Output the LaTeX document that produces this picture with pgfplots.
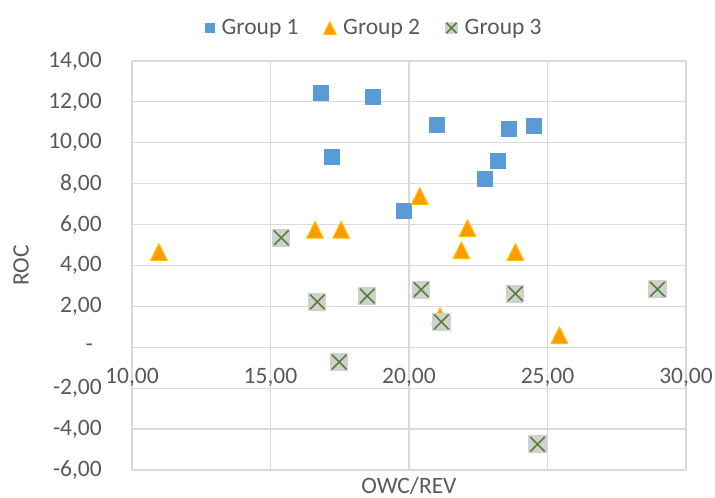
\documentclass[border=0pt]{standalone}
\usepackage{pgfplots}
\pgfplotsset{compat=1.18}
\usepackage{fontspec}
\setmainfont{Carlito}

\definecolor{txt}{HTML}{595959}
\definecolor{gridc}{HTML}{D9D9D9}
\definecolor{g1}{HTML}{5B9BD5}
\definecolor{g2fill}{HTML}{FF9A00}
\definecolor{g2edge}{HTML}{FFC000}
\definecolor{g3fill}{HTML}{D0D0D0}
\definecolor{g3line}{HTML}{548235}

% isosceles triangle as wide as it is tall, centred on the point
\pgfdeclareplotmark{tri}{%
  \pgfpathmoveto{\pgfqpoint{0pt}{\pgfplotmarksize}}%
  \pgfpathlineto{\pgfqpoint{\pgfplotmarksize}{-\pgfplotmarksize}}%
  \pgfpathlineto{\pgfqpoint{-\pgfplotmarksize}{-\pgfplotmarksize}}%
  \pgfpathclose
  \pgfusepathqfillstroke}
% cross drawn over a filled square
\pgfdeclareplotmark{xbox}{%
  \pgfpathrectangle{\pgfqpoint{-\pgfplotmarksize}{-\pgfplotmarksize}}{\pgfqpoint{2\pgfplotmarksize}{2\pgfplotmarksize}}%
  \pgfusepathqfill
  \pgfpathmoveto{\pgfqpoint{-0.8\pgfplotmarksize}{-0.8\pgfplotmarksize}}%
  \pgfpathlineto{\pgfqpoint{0.8\pgfplotmarksize}{0.8\pgfplotmarksize}}%
  \pgfpathmoveto{\pgfqpoint{-0.8\pgfplotmarksize}{0.8\pgfplotmarksize}}%
  \pgfpathlineto{\pgfqpoint{0.8\pgfplotmarksize}{-0.8\pgfplotmarksize}}%
  \pgfusepathqstroke}

% legend shows a single, smaller copy of the mark
\pgfplotsset{
  legmark/.style={legend image code/.code={\draw[##1, mark size=#1] plot coordinates {(0bp,0bp)};}},
}

\newcommand\chartfont{\fontsize{23.5bp}{28bp}\selectfont}

\begin{document}
\begin{tikzpicture}
\path[use as bounding box] (-132bp,-28bp) rectangle (583bp,470bp);
\begin{axis}[
  at={(0,0)}, anchor=south west,
  scale only axis, width=554bp, height=409bp,
  xmin=10, xmax=30, ymin=-6, ymax=14,
  xtick={10,15,20,25,30},
  ytick={-6,-4,-2,0,2,4,6,8,10,12,14},
  xticklabels={{10,00},{15,00},{20,00},{25,00},{30,00}},
  yticklabels={{-6,00},{-4,00},{-2,00},{-\hspace*{9bp}},{2,00},{4,00},{6,00},{8,00},{10,00},{12,00},{14,00}},
  major tick length=0pt,
  grid=major,
  grid style={gridc, line width=1.2bp},
  axis line style={gridc, line width=1.2bp},
  tick label style={font=\chartfont, text=txt},
  xticklabel style={anchor=center, inner sep=0pt, yshift=93bp},
  yticklabel style={anchor=east, inner sep=0pt, xshift=-30bp},
  xlabel={OWC/REV},
  ylabel={ROC},
  xlabel style={at={(axis description cs:0.5,0)}, anchor=base, yshift=-23bp, font=\chartfont, text=txt},
  ylabel style={at={(axis description cs:-0.2004,0.5)}, anchor=center, font=\chartfont, text=txt},
  legend columns=-1,
  legend style={at={(axis description cs:0.438,1.0807)}, anchor=center,
    draw=none, fill=none, font=\chartfont, text=txt,
    /tikz/every odd column/.append style={column sep=5bp},
    /tikz/every even column/.append style={column sep=23bp}},
  legend cell align=left,
]
\addplot[only marks, mark=square*, mark size=7.5bp,
  mark options={fill=g1, draw=g1, line width=0.6bp}, legmark=4.5bp]
  coordinates {
  (16.80,12.46) (18.68,12.26) (17.23,9.32) (19.83,6.68) (20.99,10.89)
  (23.60,10.69) (24.52,10.81) (23.22,9.13) (22.72,8.25)
};
\addlegendentry{Group 1}
\addplot[only marks, mark=tri, mark size=8.3bp,
  mark options={fill=g2fill, draw=g2edge, line width=1bp}, legmark=6.3bp]
  coordinates {
  (10.97,4.66) (16.61,5.75) (17.55,5.75) (20.39,7.40) (22.11,5.83)
  (21.89,4.74) (23.84,4.66) (25.43,0.59) (21.12,1.52)
};
\addlegendentry{Group 2}
\addplot[only marks, mark=xbox, mark size=9.1bp,
  mark options={fill=g3fill, draw=g3line, line width=1.6bp}, legmark=6.3bp]
  coordinates {
  (15.39,5.36) (16.69,2.22) (18.49,2.51) (17.48,-0.72) (20.44,2.82)
  (21.17,1.24) (23.84,2.62) (24.64,-4.74) (28.97,2.84)
};
\addlegendentry{Group 3}
\end{axis}
\end{tikzpicture}
\end{document}
